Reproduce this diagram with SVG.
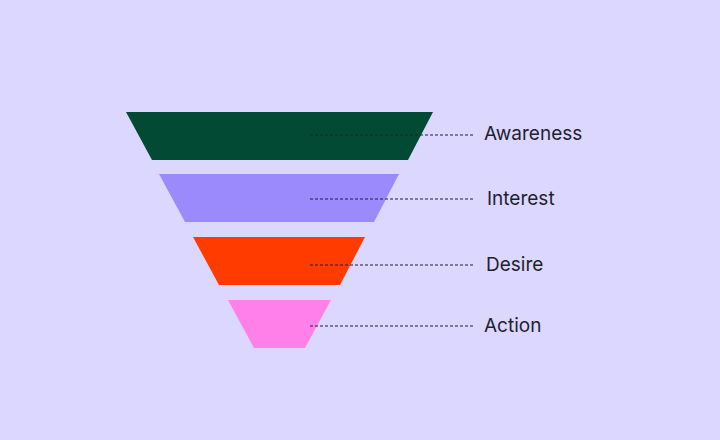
<svg xmlns="http://www.w3.org/2000/svg" width="720" height="440" viewBox="0 0 720 440">
<style>
.l{stroke:#1f1f2e;stroke-width:1.2;stroke-dasharray:3 2;fill:none}
.t{font-family:Inter,"Liberation Sans",sans-serif;font-size:19px;fill:#1f1f2e}
</style>
<rect width="720" height="440" fill="#DCD7FE"/>
<g id="awareness"><polygon points="126,112 433,112 408,160 152,160" fill="#024A34"/></g>
<g id="interest"><polygon points="159,174 399,174 374,222 185,222" fill="#9B8AFB"/></g>
<g id="desire"><polygon points="193,237 365,237 340,285 219,285" fill="#FF3B00"/></g>
<g id="action"><polygon points="228,300 331,300 305,348 254,348" fill="#FF80E8"/></g>
<g id="connectors">
<line class="l" x1="310" y1="135" x2="473" y2="135"/>
<line class="l" x1="310" y1="199" x2="473" y2="199"/>
<line class="l" x1="310" y1="265" x2="473" y2="265"/>
<line class="l" x1="310" y1="326" x2="473" y2="326"/>
</g>
<text class="t" x="484" y="140">Awareness</text>
<text class="t" x="487" y="205">Interest</text>
<text class="t" x="486" y="271">Desire</text>
<text class="t" x="484" y="332">Action</text>
</svg>
